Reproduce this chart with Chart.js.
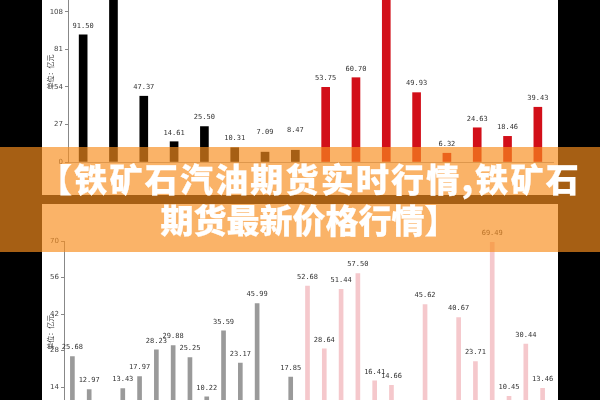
<!DOCTYPE html>
<html><head><meta charset="utf-8">
<script src="https://cdn.jsdelivr.net/npm/chart.js@4"></script>
<style>
html,body{margin:0;padding:0;}
body{width:600px;height:400px;overflow:hidden;background:#000;position:relative;font-family:"Noto Sans CJK SC",sans-serif;}
#panel{position:absolute;left:42px;top:0;width:516px;height:400px;background:#fff;}
#w1{position:absolute;left:0;top:-18px;width:600px;height:230px;}
#w2{position:absolute;left:0;top:221px;width:600px;height:260px;}
#band{position:absolute;left:0;top:147px;width:600px;height:105px;background:rgba(248,142,30,0.67);}
#strip{position:absolute;left:0;top:195px;width:600px;height:9px;background:rgb(166,95,20);}
.t{position:absolute;left:8px;width:600px;text-align:center;color:#fff;font-weight:900;font-size:33px;line-height:33px;white-space:nowrap;font-family:"Noto Sans CJK SC",sans-serif;-webkit-text-stroke:0.25px #fff;}
</style></head>
<body>
<div id="panel"></div>
<div id="w1"><canvas id="c1"></canvas></div>
<div id="w2"><canvas id="c2"></canvas></div>
<div id="band"></div>
<div id="strip"></div>
<div class="t" id="l1" style="top:162px;left:10px;letter-spacing:2.2px"></div>
<div class="t" id="l2" style="top:203px;left:9px"></div>
<script>
// ---- data ----
const topCategories = ['1','2','3','4','5','6','7','8','9','10','11','12','13','14','15','16'];
const topBlackValues = [91.50, 128.00, 47.37, 14.61, 25.50, 10.31, 7.09, 8.47];
const topRedValues = [53.75, 60.70, 125.00, 49.93, 6.32, 24.63, 18.46, 39.43];
const topTicks = [0, 27, 54, 81, 108];

const bottomCategories = ['1','2','3','4','5','6','7','8','9','10','11','12','13','14','15','16','17','18','19','20','21','22','23','24','25','26','27','28','29'];
const bottomGrayValues = [25.68, 12.97, 2.50, 13.43, 17.97, 28.23, 29.88, 25.25, 10.22, 35.59, 23.17, 45.99, 2.50, 17.85];
const bottomPinkValues = [52.68, 28.64, 51.44, 57.50, 16.41, 14.66, 2.50, 45.62, 2.50, 40.67, 23.71, 69.49, 10.45, 30.44, 13.46];
const bottomTicks = [0, 14, 28, 42, 56, 70];

const unitTitle = '单位：亿元';
const headline1 = '【铁矿石汽油期货实时行情,铁矿石';
const headline2 = '期货最新价格行情】';

document.getElementById('l1').textContent = headline1;
document.getElementById('l2').textContent = headline2;

const valueLabels = {
  id: 'valueLabels',
  afterDatasetsDraw(chart, args, opts) {
    const ctx = chart.ctx;
    ctx.save();
    ctx.font = opts.font;
    ctx.fillStyle = opts.color;
    ctx.textAlign = 'center';
    ctx.textBaseline = 'middle';
    chart.data.datasets.forEach((ds, i) => {
      const meta = chart.getDatasetMeta(i);
      meta.data.forEach((el, j) => {
        const v = ds.data[j];
        if (v == null) return;
        const lift = (opts.lift && opts.lift[j]) || 0;
        ctx.fillText(v.toFixed(2), el.x, el.y - opts.offset - lift);
      });
    });
    ctx.restore();
  }
};

function yScale(max, tickArr, width) {
  return {
    min: 0, max: max,
    afterBuildTicks: s => { s.ticks = tickArr.map(v => ({value: v})); },
    afterFit: s => { s.width = width; s.paddingTop = 0; s.paddingBottom = 0; },
    ticks: {font: {family: 'DejaVu Sans', size: 7}, color: '#444', padding: 2, autoSkip: false},
    grid: {drawOnChartArea: false, drawTicks: true, tickLength: 3, color: '#888'},
    border: {display: true, color: '#888'},
    title: {display: true, text: unitTitle, font: {family: 'Noto Sans CJK SC', size: 7}, color: '#333', padding: {top: 46, bottom: 0}}
  };
}
function xScale(height) {
  return {
    type: 'category', offset: true,
    afterFit: s => { s.height = height; s.paddingLeft = 0; s.paddingRight = 0; },
    ticks: {display: false},
    grid: {display: false},
    border: {display: true, color: '#aaa'}
  };
}
const pad = n => Array(n).fill(null);

new Chart(document.getElementById('c1'), {
  type: 'bar',
  data: {
    labels: topCategories,
    datasets: [
      {data: topBlackValues.concat(pad(topRedValues.length)), backgroundColor: '#000000', barThickness: 8, grouped: false},
      {data: pad(topBlackValues.length).concat(topRedValues), backgroundColor: '#d20f19', barThickness: 8, grouped: false}
    ]
  },
  options: {
    responsive: true, maintainAspectRatio: false, animation: false, devicePixelRatio: 1,
    layout: {padding: {left: 0, right: 47, top: 0, bottom: 0}},
    scales: {x: xScale(50), y: yScale(129.6, topTicks, 68)},
    plugins: {legend: {display: false}, tooltip: {enabled: false},
      valueLabels: {font: '7px "DejaVu Sans Mono"', color: '#333', offset: 9, lift: {6: 11, 7: 11}}}
  },
  plugins: [valueLabels]
});

new Chart(document.getElementById('c2'), {
  type: 'bar',
  data: {
    labels: bottomCategories,
    datasets: [
      {data: bottomGrayValues.concat(pad(bottomPinkValues.length)), backgroundColor: '#9a9a9a', barThickness: 4, grouped: false},
      {data: pad(bottomGrayValues.length).concat(bottomPinkValues), backgroundColor: '#f5c8cc', barThickness: 4, grouped: false}
    ]
  },
  options: {
    responsive: true, maintainAspectRatio: false, animation: false, devicePixelRatio: 1,
    layout: {padding: {left: 0, right: 49, top: 20, bottom: 0}},
    scales: {x: xScale(57.5), y: yScale(70, bottomTicks, 64)},
    plugins: {legend: {display: false}, tooltip: {enabled: false},
      valueLabels: {font: '7px "DejaVu Sans Mono"', color: '#333', offset: 9}}
  },
  plugins: [valueLabels]
});
</script>
</body></html>
